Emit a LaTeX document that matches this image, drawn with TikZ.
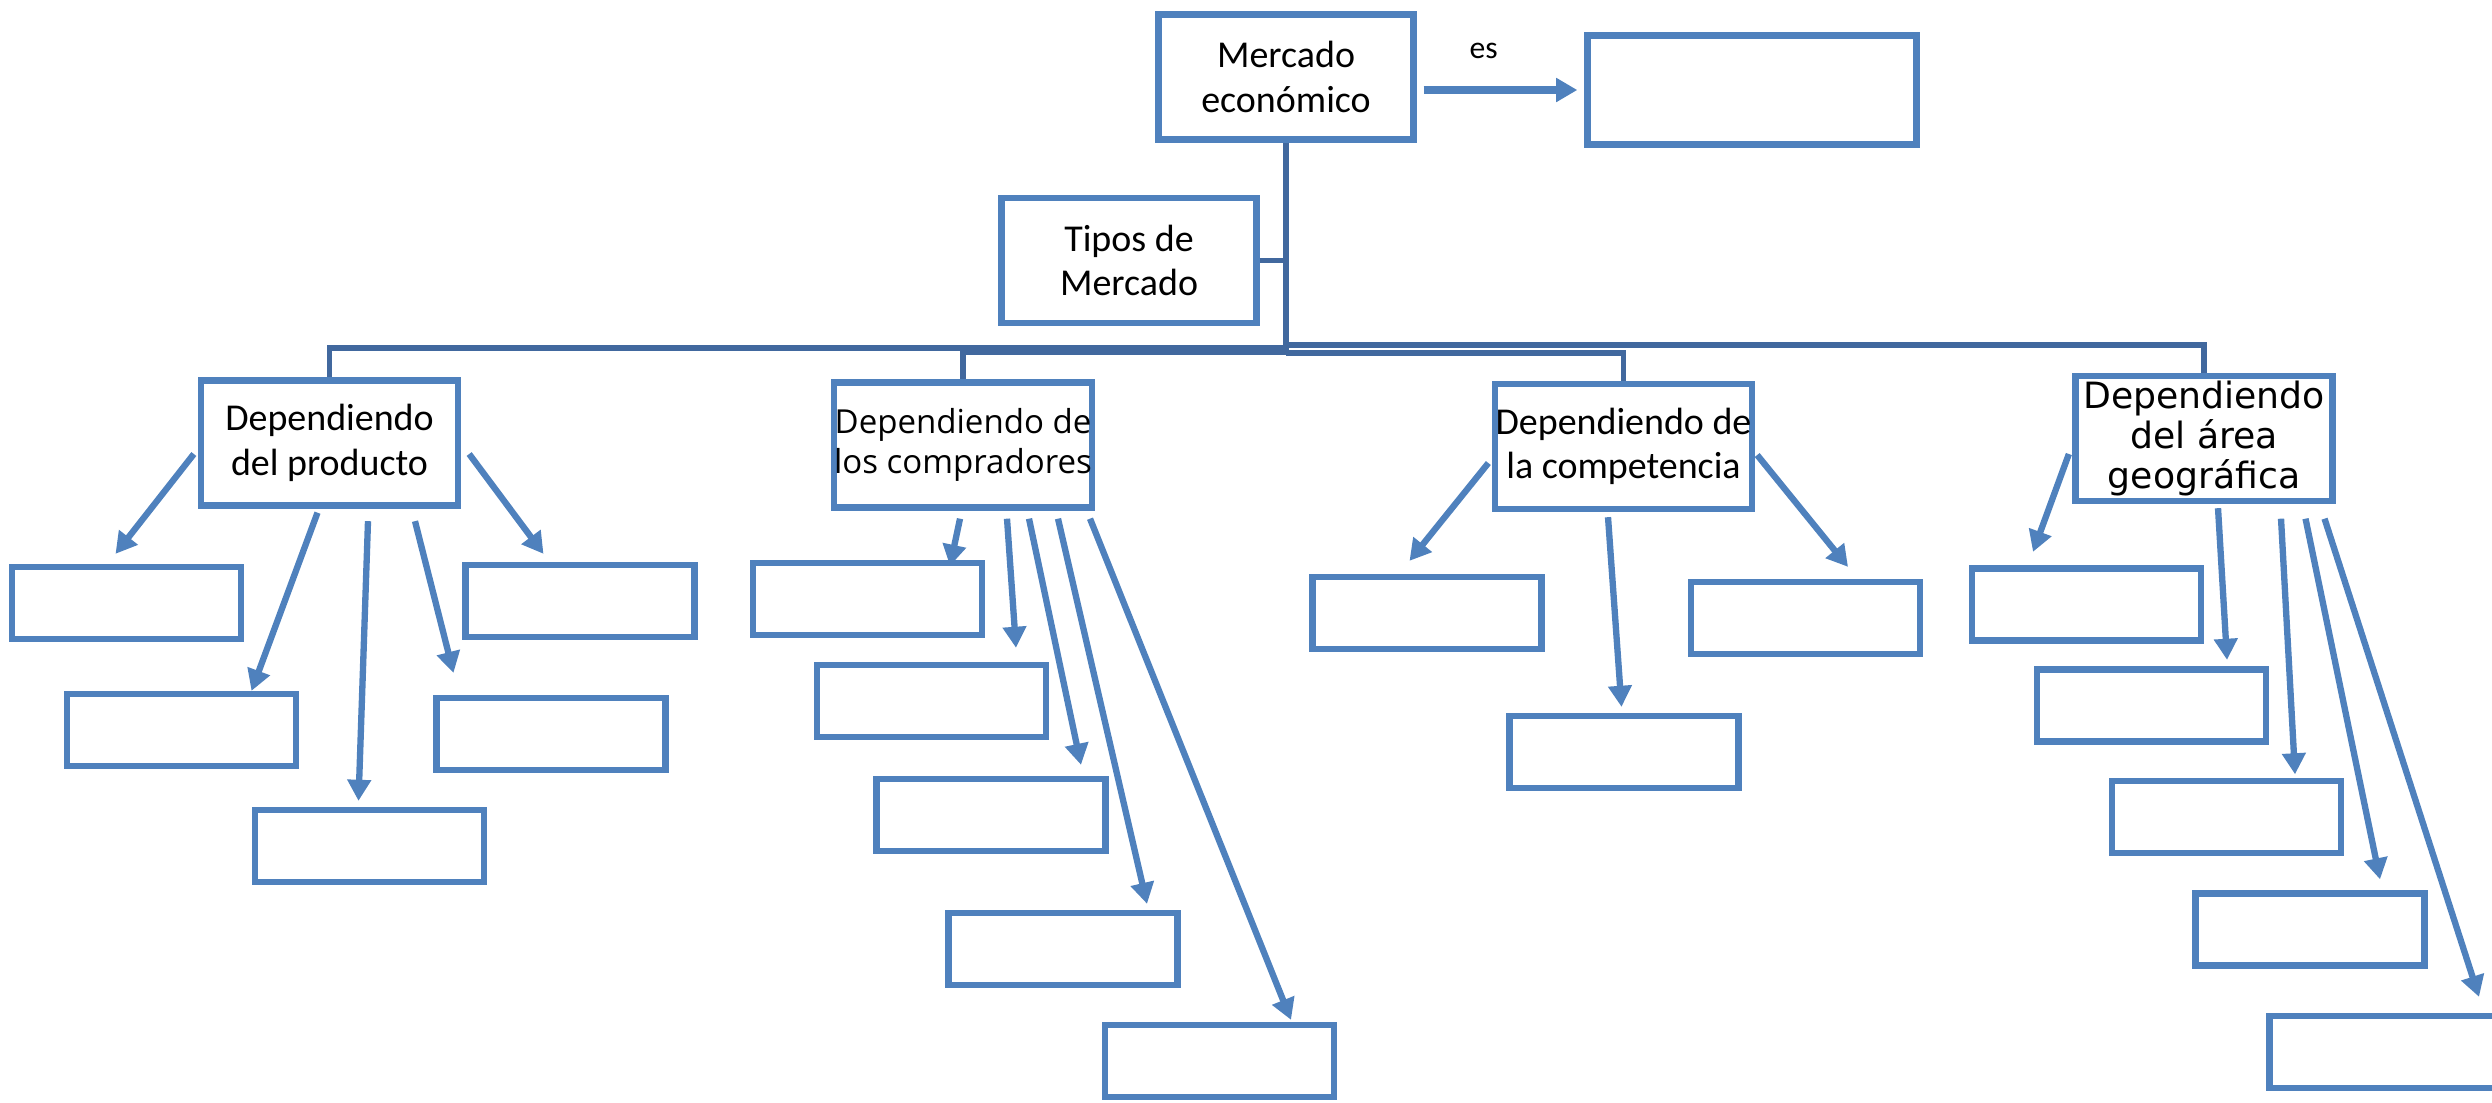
\documentclass[tikz,border=0pt]{standalone}
\usepackage{fontspec}
\setmainfont{Carlito}
\newfontfamily\opensans{Open Sans}
\newfontfamily\dejavu{DejaVu Sans}
\usetikzlibrary{arrows.meta}
\definecolor{cajaazul}{HTML}{4F81BD}
\definecolor{ramaazul}{HTML}{41689E}

\begin{document}
\begin{tikzpicture}[
	caja/.style={draw=cajaazul, line width=1.8pt, align=center, inner sep=0pt, font=\fontsize{10.8}{12.6}\selectfont},
	tema/.style={caja, minimum width=2.57cm, minimum height=1.25cm},
	hoja/.style={caja, minimum width=2.29cm, minimum height=0.72cm},
	rama/.style={draw=ramaazul, line width=1.5pt},
	flecha/.style={draw=cajaazul, line width=1.8pt, -{Triangle[length=6pt,width=6.5pt]}}]
	\useasboundingbox (0,0) rectangle (24.92,-11.02);

	\node[tema, minimum width=2.55cm] (merc) at (12.86,-0.77) {Mercado\\económico};
	\node[caja, minimum width=3.29cm, minimum height=1.09cm] (def) at (17.52,-0.90) {};
	\node[tema, minimum width=2.55cm] (tipos) at (11.29,-2.605) {Tipos de\\Mercado};

	\node[tema] (prod) at (3.295,-4.43) {Dependiendo\\del producto};
	\node[tema, font=\opensans\fontsize{9.4}{11.5}\selectfont] (comp) at (9.63,-4.45) {Dependiendo de\\los compradores};
	\node[tema] (compe) at (16.235,-4.465) {Dependiendo de\\la competencia};
	\node[tema, font=\dejavu\fontsize{10.3}{11.4}\selectfont] (area) at (22.04,-4.385) {Dependiendo\\del área\\geográfica};

	\node[hoja] (p1) at (1.265,-6.03) {};
	\node[hoja] (p2) at (1.815,-7.30) {};
	\node[hoja] (p3) at (3.695,-8.46) {};
	\node[hoja] (p4) at (5.51,-7.34) {};
	\node[hoja] (p5) at (5.80,-6.01) {};

	\node[hoja] (c1) at (8.675,-5.99) {};
	\node[hoja] (c2) at (9.315,-7.01) {};
	\node[hoja] (c3) at (9.91,-8.15) {};
	\node[hoja] (c4) at (10.63,-9.49) {};
	\node[hoja] (c5) at (12.195,-10.61) {};

	\node[hoja] (k1) at (14.27,-6.13) {};
	\node[hoja] (k2) at (16.24,-7.52) {};
	\node[hoja] (k3) at (18.055,-6.18) {};

	\node[hoja] (a1) at (20.865,-6.045) {};
	\node[hoja] (a2) at (21.515,-7.055) {};
	\node[hoja] (a3) at (22.265,-8.17) {};
	\node[hoja] (a4) at (23.10,-9.295) {};
	\node[hoja] (a5) at (23.84,-10.52) {};

	\draw[flecha, line width=2.2pt, shorten <=2pt, shorten >=2pt] (merc.east |- def.west) -- node[above=0.16cm, pos=0.4, font=\fontsize{9}{10.8}\selectfont] {es} (def.west);

	\draw[rama] (merc.south) -- (merc.south |- 0,-3.55);
	\draw[rama] (tipos.east) -- (tipos.east -| merc.south);
	\foreach \n/\y in {prod/3.48, comp/3.52, compe/3.53, area/3.45}
		\draw[rama] (merc.south |- 0,-\y) -| (\n.north);

	\draw[flecha] ([shift={(-0.04,-0.11)}]prod.west) -- ([shift={(-0.11,0.1)}]p1.north);
	\draw[flecha] ([shift={(-0.12,-0.04)}]prod.south) -- ([shift={(0.70,0)}]p2.north);
	\draw[flecha] ([shift={(0.385,-0.125)}]prod.south) -- ([shift={(-0.11,0.06)}]p3.north);
	\draw[flecha] ([shift={(0.855,-0.125)}]prod.south) -- ([shift={(-0.975,0.22)}]p4.north);
	\draw[flecha] ([shift={(0.08,-0.11)}]prod.east) -- ([shift={(-0.365,0.08)}]p5.north);

	\draw[flecha] ([shift={(-0.03,-0.08)}]comp.south) -- ([shift={(0.825,-0.06)}]c1.north);
	\draw[flecha] ([shift={(0.44,-0.08)}]comp.south) -- ([shift={(0.845,0.14)}]c2.north);
	\draw[flecha] ([shift={(0.66,-0.08)}]comp.south) -- ([shift={(0.90,0.11)}]c3.north);
	\draw[flecha] ([shift={(0.95,-0.08)}]comp.south) -- ([shift={(0.84,0.06)}]c4.north);
	\draw[flecha] ([shift={(1.27,-0.08)}]comp.south) -- ([shift={(0.715,0.02)}]c5.north);

	\draw[flecha] ([shift={(-0.035,-0.165)}]compe.west) -- ([shift={(-0.175,0.13)}]k1.north);
	\draw[flecha] ([shift={(-0.155,-0.05)}]compe.south) -- ([shift={(-0.025,0.06)}]k2.north);
	\draw[flecha] ([shift={(0.02,-0.085)}]compe.east) -- ([shift={(0.425,0.12)}]k3.north);

	\draw[flecha] ([shift={(-0.035,-0.155)}]area.west) -- ([shift={(-0.535,0.135)}]a1.north);
	\draw[flecha] ([shift={(0.14,-0.04)}]area.south) -- ([shift={(0.755,0.065)}]a2.north);
	\draw[flecha] ([shift={(0.77,-0.145)}]area.south) -- ([shift={(0.685,0.035)}]a3.north);
	\draw[flecha] ([shift={(1.015,-0.145)}]area.south) -- ([shift={(0.70,0.11)}]a4.north);
	\draw[flecha] ([shift={(1.205,-0.145)}]area.south) -- ([shift={(0.95,0.16)}]a5.north);
\end{tikzpicture}
\end{document}
